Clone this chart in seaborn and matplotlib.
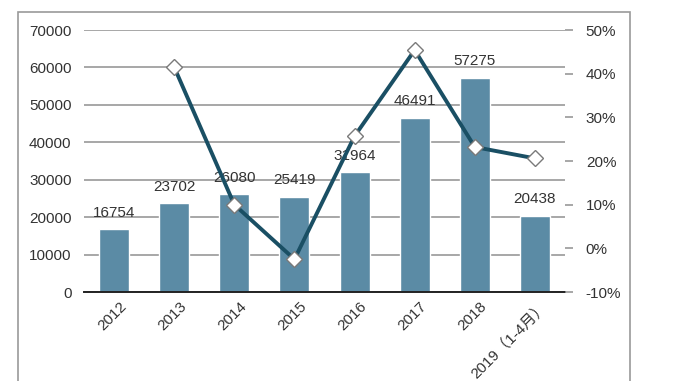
import numpy as np
import pandas as pd
import matplotlib
matplotlib.use("Agg")
import matplotlib.pyplot as plt
import matplotlib.transforms as mtrans
from matplotlib.patches import Rectangle
import seaborn as sns

categories = ["2012", "2013", "2014", "2015", "2016", "2017", "2018", "2019（1-4月）"]
volumes = [16754, 23702, 26080, 25419, 31964, 46491, 57275, 20438]
growth_pct = [np.nan, 41.5, 10.0, -2.5, 25.7, 45.4, 23.2, 20.6]
left_ticks = [0, 10000, 20000, 30000, 40000, 50000, 60000, 70000]
right_ticks = [-10, 0, 10, 20, 30, 40, 50]

sns.set_theme(style="white")
plt.rcParams["font.family"] = ["Liberation Sans", "Noto Sans CJK SC", "DejaVu Sans"]

df = pd.DataFrame({"cat": categories, "vol": volumes, "g": growth_pct,
                   "pos": np.arange(len(categories))})

fig = plt.figure(figsize=(7, 3.81), dpi=100)
fig.patches.append(Rectangle((18 / 700, -0.1), (630 - 18) / 700, 1.1 - 12 / 381,
                             transform=fig.transFigure, fill=False,
                             edgecolor="#9a9a9a", linewidth=1.2, zorder=0))
ax = fig.add_axes([84 / 700, 1 - 292 / 381, (565 - 84) / 700, (292 - 30) / 381])

sns.barplot(data=df, x="cat", y="vol", ax=ax, color="#5b8ba5", width=0.5,
            saturation=1, order=categories)
ax.set_ylim(0, 70000)
ax.set_yticks(left_ticks)
ax.set_xlim(-0.5, len(categories) - 0.5)
ax.yaxis.grid(True, color="#8f8f8f", linewidth=1.1)
ax.set_axisbelow(True)
for s in ["left", "right", "top"]:
    ax.spines[s].set_visible(False)
ax.spines["bottom"].set_color("#222222")
ax.spines["bottom"].set_linewidth(1.4)
ax.set_xlabel("")
ax.set_ylabel("")
ax.tick_params(axis="y", length=0, pad=9, labelsize=11, labelcolor="#333333")
ax.tick_params(axis="x", length=0, pad=5, labelsize=11, labelcolor="#333333")
offset = mtrans.ScaledTranslation(5 / 100, 0, fig.dpi_scale_trans)
for lab in ax.get_xticklabels():
    lab.set_rotation(45)
    lab.set_ha("right")
    lab.set_rotation_mode("anchor")
    lab.set_transform(lab.get_transform() + offset)
ax.bar_label(ax.containers[0], labels=[str(v) for v in volumes], padding=7,
             fontsize=11, color="#333333")

ax2 = ax.twinx()
sns.lineplot(data=df.dropna(), x="pos", y="g", ax=ax2, color="#1a4f64",
             linewidth=2.8, marker="D", markersize=8.5, markerfacecolor="white",
             markeredgecolor="#7a7a7a", markeredgewidth=1.0)
ax2.set_ylim(-10, 50)
ax2.set_yticks(right_ticks)
ax2.set_yticklabels([f"{t}%" for t in right_ticks])
ax2.set_xlim(-0.5, len(categories) - 0.5)
ax2.set_ylabel("")
ax2.set_xlabel("")
for s in ["left", "right", "top", "bottom"]:
    ax2.spines[s].set_visible(False)
ax2.tick_params(axis="y", length=6, width=1.1, color="#8f8f8f", pad=9,
                labelsize=11, labelcolor="#333333")

fig.savefig("out.png", dpi=100)
